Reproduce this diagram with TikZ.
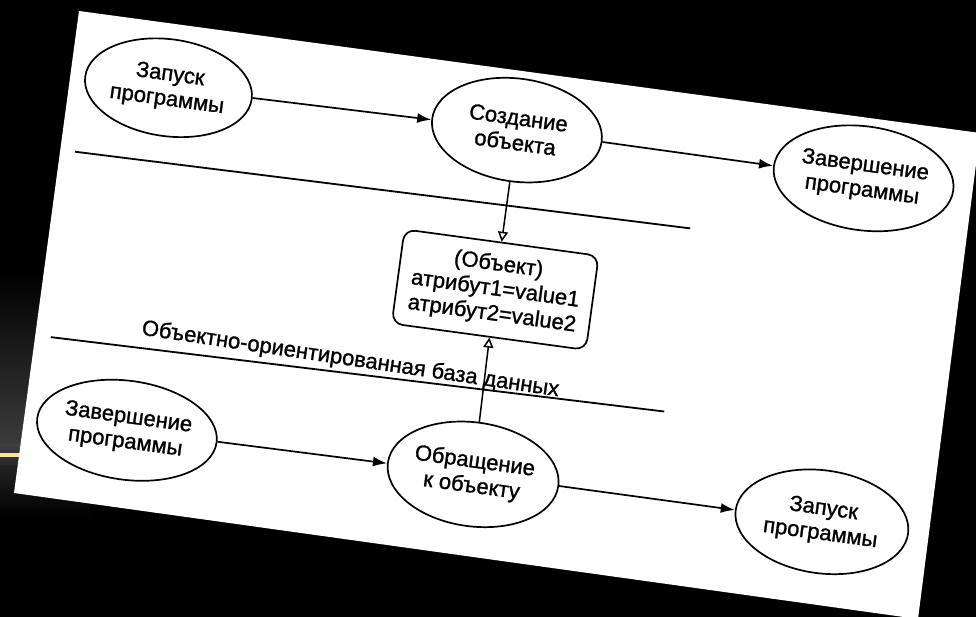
\documentclass[tikz,border=0pt]{standalone}
\usepackage{fontspec}
\setmainfont[FakeBold=1.2]{Liberation Sans}
\usetikzlibrary{arrows.meta,shapes.geometric}
\definecolor{glowgold}{RGB}{238,172,62}
\definecolor{glowpale}{RGB}{255,226,150}
\definecolor{sidegray}{RGB}{62,62,62}
\definecolor{lowgray}{RGB}{40,40,40}
\begin{document}
\begin{tikzpicture}[x=1pt,y=1pt,
  txt/.style={font=\fontsize{22}{25}\selectfont,align=center,inner sep=0pt},
  oval/.style={txt,draw,ellipse,line width=1.7pt},
  objbox/.style={txt,draw,rectangle,rounded corners=11pt,line width=1.7pt,minimum width=196pt,minimum height=95pt},
  flow/.style={line width=1.7pt,-{Latex[length=14pt,width=10pt]}},
  link/.style={line width=1.5pt,-{Triangle[open,length=10pt,width=10pt]}},
  sep/.style={line width=1.8pt}]
\useasboundingbox (0,0) rectangle (976,617);
\clip (0,0) rectangle (976,617);
% background
\fill[black] (0,0) rectangle (976,617);
\shade[top color=black,bottom color=sidegray] (0,164) rectangle (90,345);
\shade[top color=lowgray,bottom color=black] (0,100) rectangle (90,160);
\shade[top color=sidegray,middle color=glowgold,bottom color=lowgray] (0,152) rectangle (90,172);
\draw[glowpale,line width=3.5pt] (0,162) -- (90,162);
% card
\fill[white] (79,606) -- (980,484) -- (918,-2) -- (14,124) -- cycle;
\begin{scope}[shift={(79,606)},rotate=-7.75,transform shape]
  \node[oval,minimum width=168pt,minimum height=97pt] (zap1) at (99,-64) {Запуск\\программы};
  \node[oval,minimum width=171pt,minimum height=103pt] (sozd) at (450,-59) {Создание\\объекта};
  \node[oval,minimum width=174pt,minimum height=104pt] (zav1) at (800,-60) {Завершение\\программы};
  \node[objbox] (obj) at (450,-220) {(Объект)\\атрибут1=value1\\атрибут2=value2};
  \node[oval,minimum width=170pt,minimum height=99pt] (zav2) at (104,-409) {Завершение\\программы};
  \node[oval,minimum width=172pt,minimum height=104pt] (obr) at (453,-406) {Обращение\\к объекту};
  \node[oval,minimum width=174pt,minimum height=103pt] (zap2) at (805,-406) {Запуск\\программы};
  \coordinate (s1a) at (15,-140);
  \coordinate (s1b) at (635,-133);
  \coordinate (s2a) at (16,-327);
  \coordinate (s2b) at (634,-318);
  \draw[sep] (s1a) -- (s1b);
  \draw[sep] (s2a) -- (s2b);
  \node[txt,rotate=-0.65] (db) at (316,-309) {Объектно-ориентированная база данных};
  \draw[flow] (zap1) -- (sozd);
  \draw[flow] (sozd) -- (zav1);
  \draw[flow] (zav2) -- (obr);
  \draw[flow] (obr) -- (zap2);
  \draw[link] (sozd) -- (obj);
  \draw[link] (obr) -- (obj);
\end{scope}
\end{tikzpicture}
\end{document}
